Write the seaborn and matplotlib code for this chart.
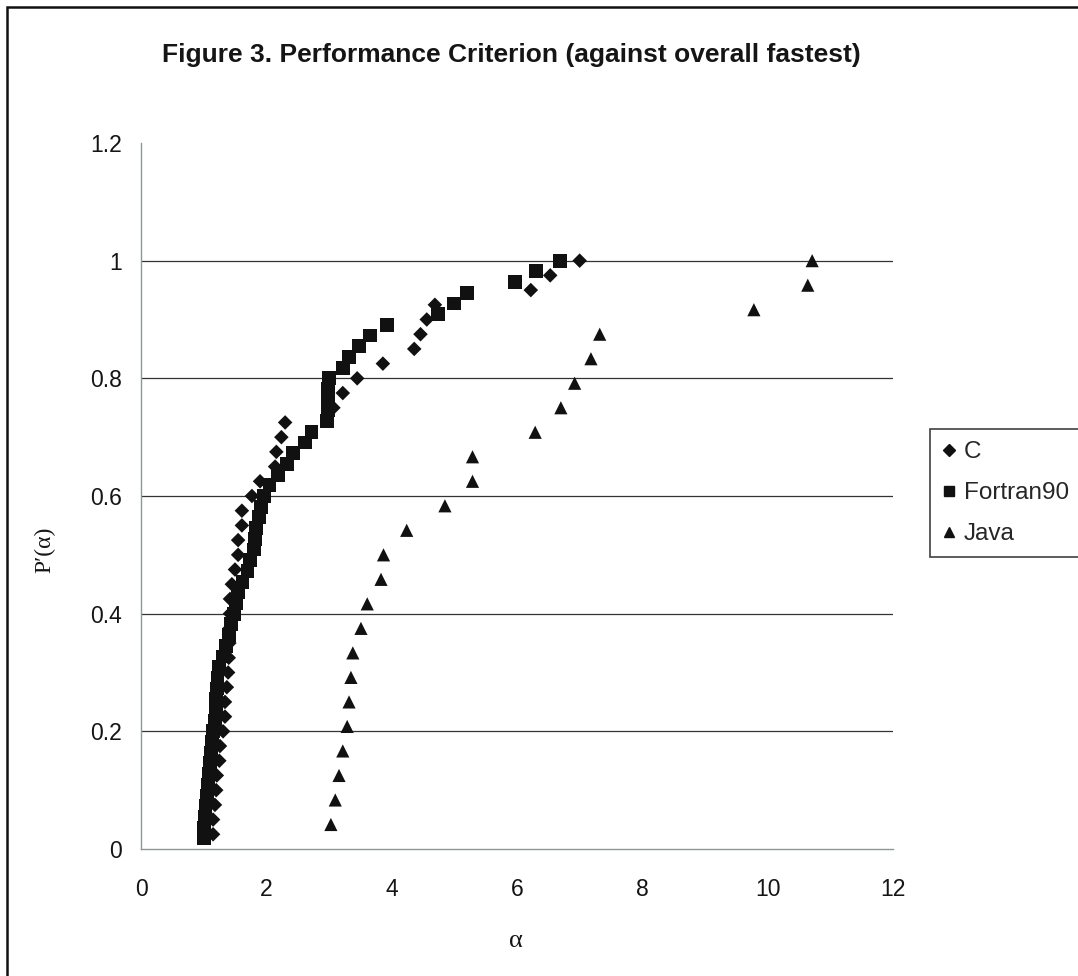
import numpy as np
import pandas as pd
import matplotlib
matplotlib.use("Agg")
import matplotlib.pyplot as plt
from matplotlib.patches import Rectangle
from matplotlib.lines import Line2D
import seaborn as sns

# ---- data ----
c_alpha = [1.15, 1.15, 1.18, 1.20, 1.21, 1.25, 1.26, 1.31, 1.34, 1.34,
           1.37, 1.39, 1.40, 1.41, 1.41, 1.42, 1.42, 1.45, 1.50, 1.55,
           1.55, 1.61, 1.61, 1.77, 1.90, 2.14, 2.16, 2.24, 2.30, 3.07,
           3.22, 3.45, 3.86, 4.36, 4.46, 4.56, 4.69, 6.22, 6.53, 7.00]
c_p = [(k + 1) / 40 for k in range(40)]

f_alpha = [1.00, 1.00, 1.02, 1.03, 1.05, 1.07, 1.09, 1.10, 1.11, 1.13,
           1.15, 1.18, 1.19, 1.20, 1.21, 1.22, 1.24, 1.30, 1.36, 1.40,
           1.43, 1.48, 1.52, 1.55, 1.62, 1.70, 1.74, 1.80, 1.82, 1.84,
           1.88, 1.92, 1.96, 2.05, 2.18, 2.33, 2.42, 2.62, 2.72, 2.97,
           2.98, 2.98, 2.99, 3.00, 3.22, 3.32, 3.48, 3.66, 3.93, 4.74,
           5.00, 5.20, 5.97, 6.30, 6.69]
f_p = [(k + 1) / 55 for k in range(55)]

j_alpha = [3.03, 3.10, 3.16, 3.22, 3.29, 3.32, 3.35, 3.38, 3.51, 3.61,
           3.83, 3.87, 4.24, 4.85, 5.29, 5.29, 6.29, 6.70, 6.92, 7.18,
           7.32, 9.78, 10.64, 10.71]
j_p = [(k + 1) / 24 for k in range(24)]

series_names = ["C", "Fortran90", "Java"]
x_ticks = [0, 2, 4, 6, 8, 10, 12]
y_ticks = [0, 0.2, 0.4, 0.6, 0.8, 1.0, 1.2]
y_tick_labels = ["0", "0.2", "0.4", "0.6", "0.8", "1", "1.2"]

df = pd.concat([
    pd.DataFrame({"alpha": c_alpha, "p": c_p, "lang": "C"}),
    pd.DataFrame({"alpha": f_alpha, "p": f_p, "lang": "Fortran90"}),
    pd.DataFrame({"alpha": j_alpha, "p": j_p, "lang": "Java"}),
], ignore_index=True)

sns.set_theme(style="white")
plt.rcParams["font.family"] = ["Liberation Sans", "DejaVu Sans"]

W, H = 1078, 976
fig = plt.figure(figsize=(W / 100, H / 100), dpi=100)
ax = fig.add_axes([141 / W, 1 - 849 / H, (893 - 141) / W, (849 - 143) / H])

markers = {"C": "D", "Fortran90": "s", "Java": "^"}
sizes = {"C": 55, "Fortran90": 100, "Java": 90}
for name in series_names:
    sub = df[df["lang"] == name]
    sns.scatterplot(data=sub, x="alpha", y="p", marker=markers[name],
                    s=sizes[name], color="#111111", edgecolor="none",
                    linewidth=0, ax=ax, legend=False, zorder=3)

ax.set_xlim(0, 12)
ax.set_ylim(0, 1.2)
ax.set_xticks(x_ticks)
ax.set_xticklabels([str(t) for t in x_ticks])
ax.set_yticks(y_ticks)
ax.set_yticklabels(y_tick_labels)

for yv in y_ticks[1:-1]:
    ax.axhline(yv, color="#333333", lw=0.9, zorder=1)

for side in ["top", "right"]:
    ax.spines[side].set_visible(False)
for side in ["left", "bottom"]:
    ax.spines[side].set_visible(True)
    ax.spines[side].set_color("#8a9a9a")
    ax.spines[side].set_linewidth(1.0)

ax.tick_params(axis="both", which="major", direction="out", length=5,
               width=0.8, color="#8a9a9a", labelsize=16.5, labelcolor="#151515")
ax.tick_params(axis="x", pad=16)
ax.tick_params(axis="y", pad=9)

ax.set_xlabel("α", fontsize=19, family=["Liberation Serif", "DejaVu Serif"],
              color="#151515")
ax.xaxis.set_label_coords((516 - 141) / 752, (849 - 930) / 706)
ax.set_ylabel("P′(α)", fontsize=17, family=["Liberation Serif", "DejaVu Serif"],
              color="#151515", va="center")
ax.yaxis.set_label_coords((45 - 141) / 752, (849 - 550) / 706)

fig.text(511 / W, 1 - 55 / H,
         "Figure 3. Performance Criterion (against overall fastest)",
         ha="center", va="center", fontsize=19, fontweight="bold",
         color="#151515")

# legend
handles = [Line2D([], [], ls="none", marker=markers[n], color="#111111",
                  markersize={"C": 6.5, "Fortran90": 7, "Java": 7.5}[n])
           for n in series_names]
leg = fig.legend(handles, series_names, loc="upper left",
                 bbox_to_anchor=(930 / W, 1 - 429 / H), frameon=True,
                 fancybox=False, edgecolor="#111111", fontsize=17.5,
                 handlelength=0.6, handletextpad=0.3, labelspacing=0.78,
                 borderpad=0.5, borderaxespad=0)
leg.get_frame().set_linewidth(1.2)

# outer figure border
fig.patches.append(Rectangle((7 / W, -0.05), 1.2, 1 - 7 / H + 0.05,
                             transform=fig.transFigure, fill=False,
                             edgecolor="#111111", linewidth=1.8))

fig.savefig("out.png", dpi=100, facecolor="white")
